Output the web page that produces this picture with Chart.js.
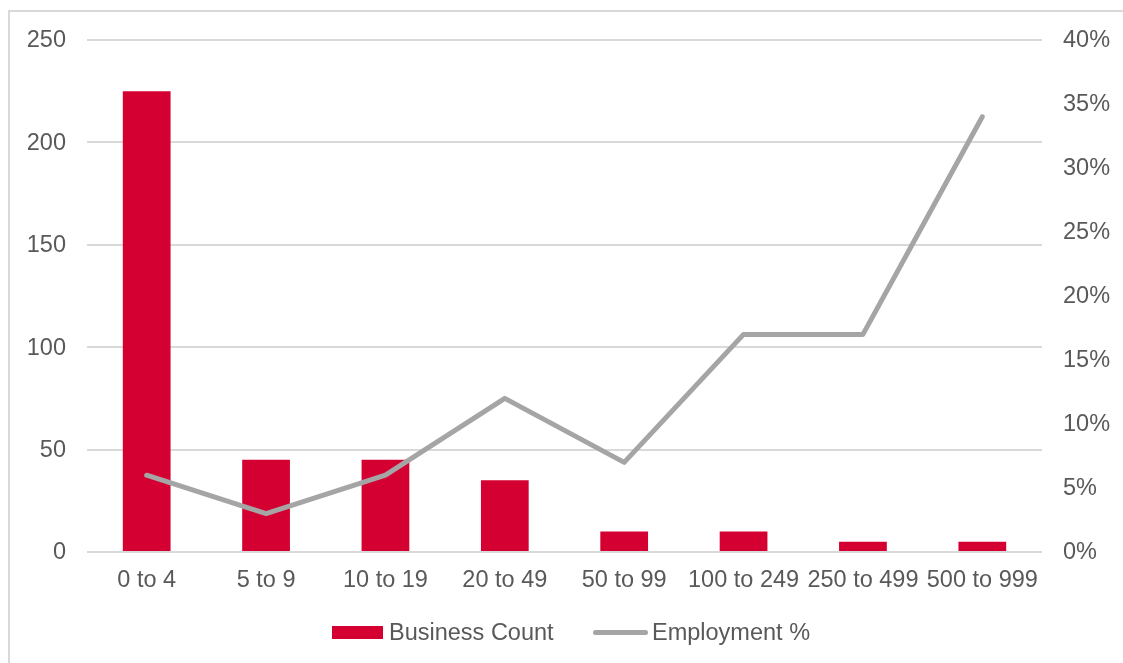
<!DOCTYPE html>
<html>
<head>
<meta charset="utf-8">
<script src="https://cdn.jsdelivr.net/npm/chart.js@4.4.1/dist/chart.umd.min.js"></script>
<style>
  html, body { margin: 0; padding: 0; background: #ffffff; }
  body { width: 1123px; height: 663px; position: relative; overflow: hidden; font-family: "Liberation Sans", Arial, sans-serif; }
  #frame { position: absolute; left: 8px; top: 10px; width: 1200px; height: 700px; border-left: 2px solid #d9d9d9; border-top: 2px solid #d9d9d9; box-sizing: border-box; }
  #wrap { position: absolute; left: 0; top: 0; width: 1123px; height: 663px; }
  #legend { position: absolute; top: 619px; left: 0; width: 1123px; height: 26px; font-size: 23.5px; color: #595959; }
  .item { position: absolute; top: 0; line-height: 26px; white-space: nowrap; }
  .swatch { position: absolute; }
</style>
</head>
<body>
<div id="frame"></div>
<div id="wrap"><canvas id="c" width="1123" height="663"></canvas></div>
<div id="legend">
  <div class="swatch" style="left:332px; top:7px; width:51px; height:13px; background:#d50032;"></div>
  <div class="item" style="left:389px;">Business Count</div>
  <div class="swatch" style="left:593px; top:11px; width:55px; height:5px; border-radius:3px; background:#a5a5a5;"></div>
  <div class="item" style="left:652px;">Employment %</div>
</div>
<script>
const categories = ["0 to 4", "5 to 9", "10 to 19", "20 to 49", "50 to 99", "100 to 249", "250 to 499", "500 to 999"];
const businessCount = [225, 45, 45, 35, 10, 10, 5, 5];
const employmentPct = [6, 3, 6, 12, 7, 17, 17, 34];
const leftTicks = [0, 50, 100, 150, 200, 250];
const rightTicks = [0, 5, 10, 15, 20, 25, 30, 35, 40];

const tickFont = { family: "'Liberation Sans', Arial, sans-serif", size: 23.5 };
const tickColor = "#595959";

new Chart(document.getElementById("c"), {
  data: {
    labels: categories,
    datasets: [
      {
        type: "line",
        label: "Employment %",
        data: employmentPct,
        yAxisID: "y1",
        borderColor: "#a5a5a5",
        backgroundColor: "#a5a5a5",
        borderWidth: 5,
        pointRadius: 0,
        tension: 0,
        borderCapStyle: "round",
        borderJoinStyle: "round",
        order: 0
      },
      {
        type: "bar",
        label: "Business Count",
        data: businessCount,
        yAxisID: "y",
        backgroundColor: "#d50032",
        borderWidth: 0,
        barPercentage: 0.4,
        categoryPercentage: 1.0,
        order: 1
      }
    ]
  },
  options: {
    responsive: false,
    animation: false,
    layout: { padding: { top: 40, left: 0, right: 0, bottom: 0 } },
    plugins: { legend: { display: false }, tooltip: { enabled: false } },
    scales: {
      x: {
        grid: { display: false, drawTicks: false },
        border: { display: false },
        ticks: { font: tickFont, color: tickColor, padding: 14, maxRotation: 0, autoSkip: false },
        afterFit: s => { s.height = 111; }
      },
      y: {
        position: "left",
        min: 0, max: 250,
        afterBuildTicks: s => { s.ticks = leftTicks.map(v => ({ value: v })); },
        grid: { color: "#d9d9d9", lineWidth: 2, drawTicks: false },
        border: { display: false },
        ticks: { font: tickFont, color: tickColor, padding: 21, labelOffset: 1 },
        afterFit: s => { s.width = 87; }
      },
      y1: {
        position: "right",
        min: 0, max: 40,
        afterBuildTicks: s => { s.ticks = rightTicks.map(v => ({ value: v })); },
        grid: { display: false, drawTicks: false },
        border: { display: false },
        ticks: { font: tickFont, color: tickColor, padding: 21, labelOffset: 1, callback: v => v + "%" },
        afterFit: s => { s.width = 81; }
      }
    }
  }
});
</script>
</body>
</html>
